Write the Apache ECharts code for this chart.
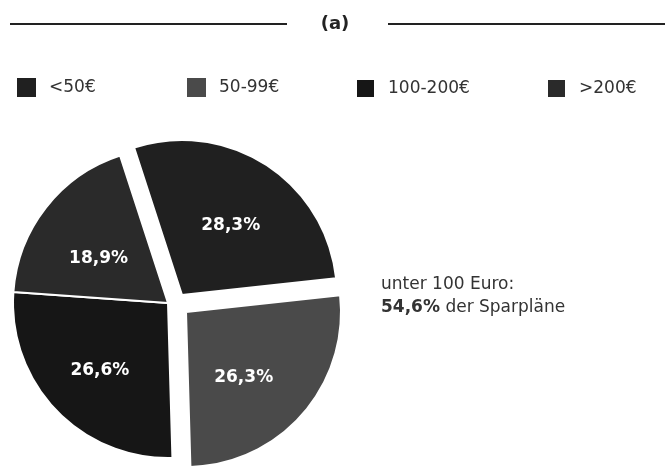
<!DOCTYPE html>
<html>
<head>
<meta charset="utf-8">
<title>Sparpläne</title>
<script src="https://cdn.jsdelivr.net/npm/echarts@6/dist/echarts.min.js"></script>
<style>
  html, body { margin: 0; padding: 0; background: #fff; }
  #chart { width: 670px; height: 468px; }
</style>
</head>
<body>
<div id="chart"></div>
<script>
// Anteil der Sparpläne nach monatlicher Sparrate
var categories = ['<50€', '50-99€', '100-200€', '>200€'];
var shares = [28.3, 26.3, 26.6, 18.9];
var panelLabel = '(a)';

var colors = ['#202020', '#4a4a4a', '#161616', '#2a2a2a'];
var labelNudge = [[5, -2], [-3, 13], [-10, 12], [-6, 5]];
var legendLeft = [12, 182, 350, 541];
var font = 'DejaVu Sans';

function fmt(v) {
  return v.toFixed(1).replace('.', ',') + '%';
}

// one pie per group, all slices kept so the angles stay the same,
// slices of the other groups are just made invisible
function slices(visible) {
  return shares.map(function (v, i) {
    var on = visible.indexOf(i) >= 0;
    return {
      name: categories[i],
      value: v,
      itemStyle: {
        color: on ? colors[i] : 'rgba(0,0,0,0)',
        borderWidth: on ? 2 : 0
      },
      label: { show: on, offset: labelNudge[i] }
    };
  });
}

function pie(visible, center) {
  return {
    type: 'pie',
    silent: true,
    radius: 155,
    center: center,
    startAngle: 108,
    clockwise: true,
    avoidLabelOverlap: false,
    itemStyle: { borderColor: '#fff' },
    label: {
      position: 'inside',
      color: '#fff',
      fontFamily: font,
      fontWeight: 'bold',
      fontSize: 17,
      formatter: function (p) { return fmt(p.value); }
    },
    labelLine: { show: false },
    emphasis: { disabled: true },
    data: slices(visible)
  };
}

var chart = echarts.init(document.getElementById('chart'));

var legends = categories.map(function (c, i) {
  return {
    left: legendLeft[i],
    top: 73,
    orient: 'horizontal',
    selectedMode: false,
    icon: 'rect',
    itemWidth: 19,
    itemHeight: 19,
    itemGap: 0,
    textStyle: { fontFamily: font, fontSize: 17, color: '#333', padding: [0, 0, 0, 8] },
    data: [{ name: c, itemStyle: { color: colors[i] } }]
  };
});

var under100 = fmt(shares[0] + shares[1]);

var option = {
  animation: false,
  title: [
    {
      text: panelLabel,
      left: 'center',
      top: 10,
      textStyle: { fontFamily: font, fontWeight: 'bold', fontSize: 18, color: '#222' }
    },
    {
      text: '{n|unter 100 Euro:}\n{b|' + under100 + '}{n| der Sparpläne}',
      left: 376,
      top: 268,
      textStyle: {
        fontWeight: 'normal',
        rich: {
          n: { fontFamily: font, fontSize: 17, fontWeight: 'normal', color: '#333', lineHeight: 23 },
          b: { fontFamily: font, fontSize: 17, fontWeight: 'bold', color: '#333', lineHeight: 23 }
        }
      }
    }
  ],
  legend: legends,
  graphic: [
    { type: 'line', shape: { x1: 10, y1: 24, x2: 287, y2: 24 }, style: { stroke: '#222', lineWidth: 2 } },
    { type: 'line', shape: { x1: 388, y1: 24, x2: 665, y2: 24 }, style: { stroke: '#222', lineWidth: 2 } }
  ],
  series: [
    pie([2, 3], [168, 303]),
    pie([0], [182, 295]),
    pie([1], [186, 312])
  ]
};

chart.setOption(option);
</script>
</body>
</html>
